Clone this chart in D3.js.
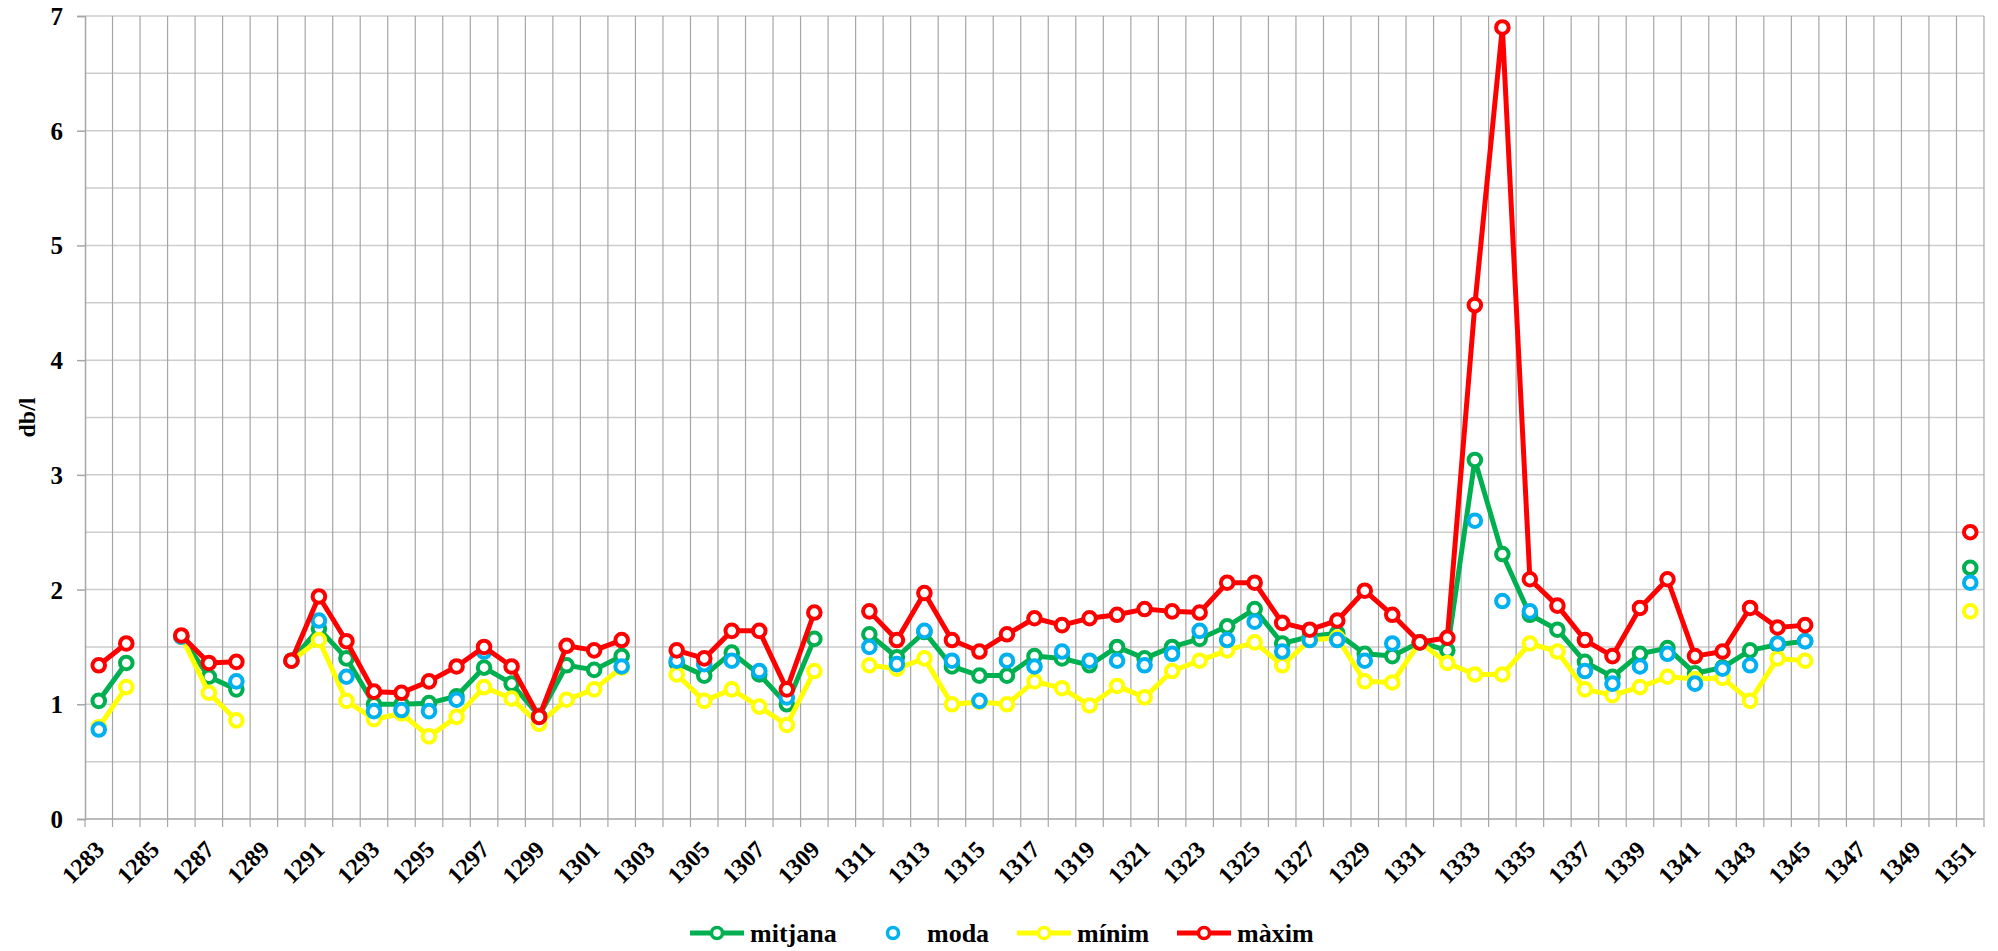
<!DOCTYPE html>
<html>
<head>
<meta charset="utf-8">
<script src="https://cdn.jsdelivr.net/npm/d3@7"></script>
<style>
  body { margin: 0; background: #fff; }
  svg text { font-family: "Liberation Serif", "Times New Roman", serif !important; font-weight: bold; fill: #000; }
</style>
</head>
<body>
<div id="chart"></div>
<script>
// years on the category axis
const years = d3.range(1283, 1352);

// series values, one per year (null = no data)
const mitjana = [1.03, 1.36, null, 1.59, 1.24, 1.13, null, 1.38, 1.66, 1.40,
  1.00, 1.00, 1.01, 1.07, 1.32, 1.18, 0.90, 1.34, 1.30, 1.42,
  null, 1.36, 1.25, 1.45, 1.26, 1.00, 1.57, null, 1.61, 1.41,
  1.63, 1.33, 1.25, 1.25, 1.42, 1.40, 1.34, 1.50, 1.40, 1.50,
  1.57, 1.68, 1.83, 1.53, 1.59, 1.62, 1.44, 1.42, 1.54, 1.47,
  3.13, 2.31, 1.78, 1.65, 1.37, 1.24, 1.44, 1.49, 1.27, 1.32,
  1.47, 1.52, 1.55, null, null, null, null, null, 2.19];

const moda = [0.78, null, null, 1.59, null, 1.20, null, 1.38, 1.73, 1.24,
  0.94, 0.95, 0.94, 1.04, 1.46, null, 0.89, null, null, 1.33,
  null, 1.38, 1.35, 1.38, 1.29, 1.06, null, null, 1.50, 1.35,
  1.64, 1.38, 1.03, 1.38, 1.33, 1.46, 1.38, 1.38, 1.34, 1.44,
  1.64, 1.56, 1.72, 1.46, 1.56, 1.56, 1.38, 1.53, 1.54, null,
  2.60, 1.90, 1.81, null, 1.29, 1.18, 1.33, 1.44, 1.18, 1.31,
  1.34, 1.53, 1.55, null, null, null, null, null, 2.06];

const minim = [0.80, 1.15, null, 1.59, 1.10, 0.86, null, 1.38, 1.56, 1.03,
  0.87, 0.92, 0.72, 0.89, 1.15, 1.05, 0.83, 1.04, 1.13, 1.32,
  null, 1.26, 1.03, 1.13, 0.98, 0.82, 1.29, null, 1.34, 1.31,
  1.40, 1.00, 1.02, 1.00, 1.20, 1.14, 0.99, 1.16, 1.06, 1.29,
  1.38, 1.47, 1.54, 1.34, 1.56, 1.58, 1.20, 1.19, 1.54, 1.36,
  1.26, 1.26, 1.53, 1.46, 1.13, 1.08, 1.15, 1.24, 1.22, 1.23,
  1.03, 1.40, 1.38, null, null, null, null, null, 1.81];

const maxim = [1.34, 1.53, null, 1.60, 1.36, 1.37, null, 1.38, 1.94, 1.55,
  1.11, 1.10, 1.20, 1.33, 1.50, 1.33, 0.89, 1.51, 1.47, 1.56,
  null, 1.47, 1.40, 1.64, 1.64, 1.13, 1.80, null, 1.81, 1.56,
  1.97, 1.56, 1.46, 1.61, 1.75, 1.69, 1.75, 1.78, 1.83, 1.81,
  1.80, 2.06, 2.06, 1.71, 1.65, 1.73, 1.99, 1.78, 1.54, 1.58,
  4.48, 6.90, 2.09, 1.86, 1.56, 1.42, 1.84, 2.09, 1.42, 1.46,
  1.84, 1.67, 1.69, null, null, null, null, null, 2.50];

const seriesNames = ["mitjana", "moda", "mínim", "màxim"];
const yTicks = [0, 1, 2, 3, 4, 5, 6, 7];

const width = 1998, height = 951;
const margin = { top: 16, right: 14, bottom: 132, left: 85 };
const serif = '"Liberation Serif", "Times New Roman", serif';

const colors = { "mitjana": "#00B050", "moda": "#00B0F0", "mínim": "#FFFF00", "màxim": "#FF0000" };

const svg = d3.select("#chart").append("svg")
  .attr("width", width)
  .attr("height", height);

const x = d3.scaleBand()
  .domain(years)
  .range([margin.left, width - margin.right]);

const y = d3.scaleLinear()
  .domain([0, 7])
  .range([height - margin.bottom, margin.top]);

//horizontal grid, every half unit
svg.append("g")
  .selectAll("line")
  .data(d3.range(0.5, 7.01, 0.5))
  .join("line")
    .attr("x1", margin.left).attr("x2", width - margin.right)
    .attr("y1", d => y(d)).attr("y2", d => y(d))
    .attr("stroke", "#cdcdcd").attr("stroke-width", 1.5);

//vertical grid on category boundaries
const edges = years.map(d => x(d)).concat([x.range()[1]]);
svg.append("g")
  .selectAll("line")
  .data(edges.slice(1))
  .join("line")
    .attr("x1", d => d).attr("x2", d => d)
    .attr("y1", y(7)).attr("y2", y(0))
    .attr("stroke", "#a6a6a6").attr("stroke-width", 1.2);

//y axis
const yAxis = svg.append("g")
  .attr("transform", `translate(${margin.left},0)`)
  .call(d3.axisLeft(y).tickValues(yTicks).tickSize(8).tickPadding(14).tickFormat(d3.format("d")));
yAxis.attr("font-family", serif);
yAxis.select(".domain").attr("stroke", "#a6a6a6").attr("stroke-width", 1.5);
yAxis.selectAll(".tick line").attr("stroke", "#a6a6a6").attr("stroke-width", 1.5);
yAxis.selectAll("text").style("font-size", "25px").attr("dy", "0.34em");

//x axis line and ticks on boundaries
svg.append("line")
  .attr("x1", margin.left).attr("x2", width - margin.right)
  .attr("y1", y(0)).attr("y2", y(0))
  .attr("stroke", "#a6a6a6").attr("stroke-width", 1.5);
svg.append("g")
  .selectAll("line")
  .data(edges)
  .join("line")
    .attr("x1", d => d).attr("x2", d => d)
    .attr("y1", y(0)).attr("y2", y(0) + 8)
    .attr("stroke", "#a6a6a6").attr("stroke-width", 1.2);

//x labels, every other year, rotated
svg.append("g")
  .selectAll("text")
  .data(years.filter((d, i) => i % 2 === 0))
  .join("text")
    .attr("transform", d => `translate(${x(d) + x.bandwidth() / 2 + 7},${y(0) + 32}) rotate(-45)`)
    .attr("text-anchor", "end")
    .style("font-family", serif)
    .style("font-size", "24px")
    .text(d => d);

//y title
svg.append("text")
  .attr("transform", `translate(35,${y(3.5)}) rotate(-90)`)
  .attr("text-anchor", "middle")
  .style("font-family", serif)
  .style("font-size", "24px")
  .text("db/l");

//series
const line = d3.line()
  .defined(d => d != null)
  .x((d, i) => x(years[i]) + x.bandwidth() / 2)
  .y(d => y(d));

function drawSeries(name, values, withLine) {
  const g = svg.append("g");
  if (withLine) {
    g.append("path")
      .datum(values)
      .attr("fill", "none")
      .attr("stroke", colors[name])
      .attr("stroke-width", 5)
      .attr("stroke-linejoin", "round")
      .attr("d", line);
  }
  g.selectAll("circle")
    .data(values.map((v, i) => ({ v: v, i: i })).filter(d => d.v != null))
    .join("circle")
      .attr("cx", d => x(years[d.i]) + x.bandwidth() / 2)
      .attr("cy", d => y(d.v))
      .attr("r", 6.3)
      .attr("fill", "#fff")
      .attr("stroke", colors[name])
      .attr("stroke-width", 4);
}

drawSeries("mitjana", mitjana, true);
drawSeries("mínim", minim, true);
drawSeries("moda", moda, false);
drawSeries("màxim", maxim, true);

//legend
const legendY = 933;
const legendItems = [
  { name: "mitjana", x: 690, line: true },
  { name: "moda", x: 866, line: false },
  { name: "mínim", x: 1017, line: true },
  { name: "màxim", x: 1177, line: true }
];
const legend = svg.append("g");
legendItems.forEach(it => {
  const g = legend.append("g").attr("transform", `translate(${it.x},${legendY})`);
  if (it.line) {
    g.append("line")
      .attr("x1", 0).attr("x2", 54)
      .attr("stroke", colors[it.name]).attr("stroke-width", 5);
  }
  g.append("circle")
    .attr("cx", 27).attr("r", 5.5)
    .attr("fill", "#fff")
    .attr("stroke", colors[it.name]).attr("stroke-width", 3.5);
  g.append("text")
    .attr("x", it.line ? 60 : 61)
    .attr("dy", "0.33em")
    .style("font-family", serif)
    .style("font-size", "26px")
    .text(it.name);
});
</script>
</body>
</html>
